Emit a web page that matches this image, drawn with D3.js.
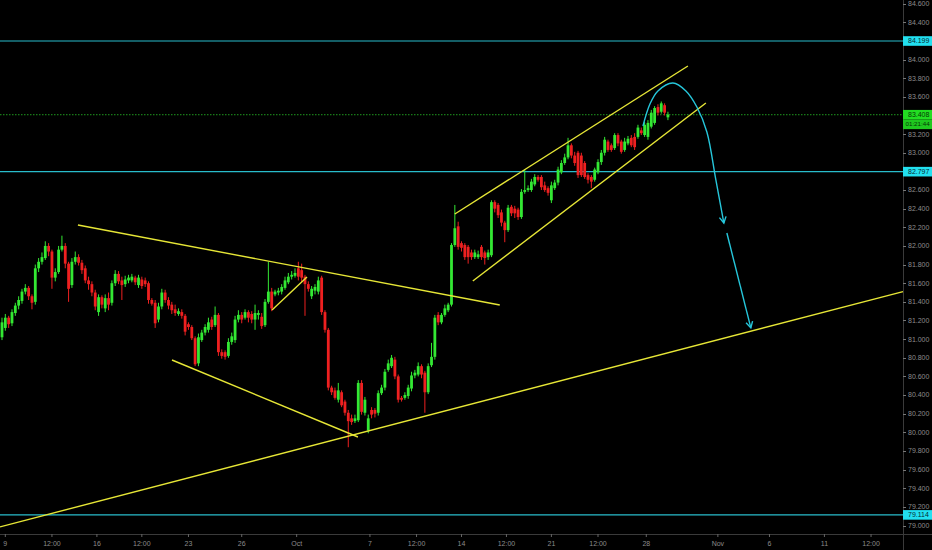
<!DOCTYPE html>
<html><head><meta charset="utf-8">
<script src="https://cdn.jsdelivr.net/npm/d3@7/dist/d3.min.js"></script>
<style>
html,body{margin:0;padding:0;background:#000;}
svg{display:block;}
text{font-family:"Liberation Sans",Arial,sans-serif;}
</style></head>
<body>
<svg id="c" width="932" height="550"></svg>
<script>
// ---- data (USD/INR style candles) ----
const opens = [81.02,81.12,81.23,81.17,81.28,81.36,81.41,81.51,81.55,81.46,
81.40,81.76,81.83,81.87,82.00,81.94,81.66,81.72,81.96,82.00,
81.81,81.58,81.83,81.88,81.82,81.76,81.63,81.59,81.50,81.29,
81.45,81.33,81.44,81.39,81.60,81.70,81.63,81.59,81.63,81.63,
81.66,81.58,81.64,81.63,81.60,81.42,81.39,81.21,81.35,81.50,
81.42,81.37,81.32,81.27,81.29,81.25,81.16,81.13,81.01,80.74,
80.99,81.07,81.10,81.21,81.15,81.26,80.86,80.86,80.82,80.97,
80.99,81.21,81.26,81.23,81.29,81.27,81.21,81.26,81.24,81.15,
81.40,81.51,81.48,81.50,81.51,81.55,81.61,81.67,81.68,81.76,
81.74,81.67,81.59,81.46,81.52,81.51,81.66,81.29,81.10,80.48,
80.45,80.35,80.43,80.33,80.21,80.15,80.12,80.13,80.53,80.21,
80.02,80.24,80.24,80.21,80.42,80.48,80.67,80.71,80.78,80.60,
80.37,80.37,80.39,80.47,80.61,80.62,80.71,80.64,80.43,80.72,
80.81,81.26,81.18,81.26,81.31,81.37,82.01,82.21,82.03,82.01,
81.99,81.93,81.88,81.88,81.99,81.93,81.88,81.90,82.47,82.44,
82.36,82.25,82.17,82.42,82.40,82.39,82.31,82.58,82.60,82.60,
82.66,82.74,82.74,82.65,82.62,82.49,82.62,82.68,82.79,82.89,
82.95,83.08,82.97,83.00,82.97,82.89,82.76,82.74,82.71,82.79,
82.90,83.00,83.12,83.08,83.05,83.19,83.12,83.03,83.10,83.16,
83.17,83.17,83.24,83.19,83.17,83.28,83.32,83.49,83.44,83.51,
83.38];
const highs = [81.23,81.27,81.25,81.32,81.39,81.46,81.54,81.59,81.57,81.48,
81.80,81.87,81.93,82.05,82.03,81.96,81.76,82.00,82.11,82.03,
81.83,81.87,81.94,81.91,81.85,81.79,81.67,81.62,81.53,81.48,
81.47,81.48,81.50,81.63,81.74,81.73,81.67,81.68,81.69,81.70,
81.68,81.69,81.67,81.66,81.62,81.44,81.42,81.39,81.54,81.53,
81.45,81.40,81.37,81.33,81.32,81.27,81.18,81.15,81.03,81.06,
81.10,81.16,81.23,81.24,81.35,81.28,80.89,80.88,81.01,81.07,
81.25,81.31,81.29,81.32,81.31,81.30,81.37,81.31,81.28,81.43,
81.83,81.55,81.53,81.55,81.59,81.67,81.71,81.73,81.76,81.83,
81.81,81.69,81.62,81.57,81.59,81.67,81.68,81.31,81.12,80.50,
80.48,80.53,80.45,80.35,80.24,80.19,80.19,80.56,80.56,80.38,
80.19,80.27,80.26,80.45,80.51,80.68,80.78,80.83,80.81,80.62,
80.39,80.43,80.51,80.65,80.67,80.75,80.73,80.66,80.74,80.96,
81.26,81.29,81.28,81.37,81.39,82.03,82.44,82.26,82.05,82.03,
82.01,81.96,81.96,81.95,82.01,81.95,81.96,82.49,82.49,82.46,
82.39,82.27,82.44,82.44,82.43,82.41,82.61,82.82,82.65,82.72,
82.77,82.76,82.76,82.69,82.64,82.69,82.71,82.85,82.92,82.99,
83.16,83.10,83.01,83.02,83.00,82.91,82.78,82.76,82.84,82.93,
83.03,83.17,83.14,83.10,83.21,83.21,83.14,83.16,83.18,83.19,
83.21,83.30,83.27,83.33,83.35,83.46,83.50,83.52,83.55,83.53,
83.44];
const lows = [80.99,81.09,81.12,81.14,81.25,81.32,81.38,81.48,81.42,81.32,
81.37,81.72,81.80,81.85,81.89,81.54,81.62,81.70,81.94,81.76,
81.40,81.55,81.80,81.79,81.70,81.60,81.53,81.46,81.31,81.25,
81.33,81.29,81.31,81.36,81.57,81.59,81.42,81.56,81.60,81.61,
81.58,81.55,81.54,81.56,81.38,81.36,81.12,81.18,81.32,81.39,
81.32,81.27,81.25,81.25,81.22,81.04,81.10,80.99,80.71,80.71,
80.97,81.04,81.07,81.10,81.13,80.82,80.79,80.78,80.80,80.94,
80.96,81.18,81.17,81.21,81.18,81.17,81.10,81.21,81.11,81.13,
81.38,81.30,81.46,81.47,81.48,81.53,81.59,81.64,81.66,81.63,
81.61,81.25,81.51,81.43,81.48,81.48,81.26,81.07,80.45,80.40,
80.35,80.32,80.27,80.18,79.84,80.08,80.10,80.11,80.19,80.18,
79.99,80.15,80.16,80.18,80.40,80.45,80.65,80.69,80.57,80.32,
80.33,80.35,80.36,80.44,80.58,80.60,80.58,80.21,80.41,80.70,
80.78,81.15,81.16,81.24,81.29,81.35,81.99,81.96,81.94,81.85,
81.81,81.85,81.86,81.86,81.85,81.80,81.85,81.88,82.36,82.30,
82.21,82.04,82.15,82.32,82.30,82.28,82.29,82.56,82.58,82.58,
82.64,82.69,82.60,82.58,82.54,82.46,82.60,82.65,82.77,82.87,
82.93,82.94,82.86,82.73,82.74,82.72,82.67,82.62,82.69,82.77,
82.87,82.97,83.01,83.01,83.03,83.07,82.99,83.01,83.08,83.06,
83.03,83.15,83.19,83.17,83.14,83.26,83.30,83.40,83.42,83.40,
83.35];
const closes = [81.18,81.23,81.16,81.29,81.36,81.42,81.51,81.55,81.46,81.39,
81.76,81.83,81.88,82.00,81.94,81.66,81.72,81.96,82.00,81.81,
81.54,81.83,81.88,81.82,81.74,81.63,81.59,81.50,81.35,81.45,
81.37,81.44,81.37,81.60,81.70,81.62,81.58,81.64,81.66,81.67,
81.61,81.66,81.57,81.59,81.42,81.38,81.17,81.35,81.50,81.42,
81.36,81.31,81.28,81.30,81.25,81.08,81.13,81.01,80.73,81.02,
81.07,81.13,81.18,81.13,81.26,80.86,80.82,80.81,80.97,81.03,
81.21,81.26,81.21,81.29,81.23,81.21,81.28,81.28,81.14,81.40,
81.51,81.33,81.51,81.52,81.56,81.63,81.67,81.69,81.71,81.67,
81.66,81.59,81.54,81.54,81.56,81.63,81.29,81.10,80.48,80.43,
80.37,80.45,80.29,80.21,80.12,80.11,80.15,80.53,80.22,80.35,
80.15,80.19,80.20,80.42,80.48,80.65,80.74,80.80,80.60,80.35,
80.35,80.40,80.48,80.61,80.64,80.71,80.62,80.43,80.71,80.81,
81.23,81.18,81.26,81.33,81.37,82.01,82.19,81.99,81.98,81.88,
81.88,81.88,81.93,81.91,81.88,81.87,81.93,82.47,82.40,82.33,
82.25,82.17,82.41,82.35,82.35,82.31,82.58,82.60,82.62,82.69,
82.74,82.71,82.63,82.60,82.57,82.65,82.68,82.82,82.89,82.95,
83.08,82.97,82.89,82.76,82.76,82.74,82.71,82.69,82.82,82.90,
83.00,83.14,83.03,83.03,83.19,83.10,83.01,83.12,83.15,83.08,
83.06,83.27,83.21,83.30,83.32,83.43,83.48,83.43,83.53,83.43,
83.41];

// x-axis tick labels and the bar index they sit at
const xTickLabels = ["9","12:00","16","12:00","23","26","Oct","7","12:00","14","12:00","21","12:00","28","Nov","6","11","12:00"];
const xTickBars   = [1,15,28.5,42,56,72,88.5,110.5,124.5,138,151.5,165,179,193.5,215,230.5,247,261];

// horizontal price levels
const levels = [84.199, 82.797, 79.114];
const lastPrice = 83.408;
const countdown = "01:21:44";

// drawn trend lines: [barIndex, price] pairs
const trendLines = [
  [[22.8, 82.225], [149.5, 81.366]],
  [[51.05, 80.776], [106.9, 79.950]],
  [[81.1, 81.313], [91.6, 81.667]],
  [[-0.6, 78.985], [270.6, 81.510]],
  [[136.0, 82.343], [206.0, 83.931]],
  [[141.4, 81.624], [211.4, 83.534]]
];
// projected path arrows: [barIndex, price]
const arrowCurve = [[192.5,83.287],[194.6,83.523],[197.0,83.663],[201.5,83.748],[205.4,83.663],[208.7,83.491],[211.7,83.223],[214.4,82.708],[216.8,82.246]];
const arrowStraight = [[217.7,82.139],[224.9,81.120]];

// ---- drawing ----
const W = 932, H = 550, plotR = 903, plotB = 534;
const svg = d3.select("#c");
svg.append("rect").attr("width",W).attr("height",H).attr("fill","#000");

const x = d3.scaleLinear().domain([-0.6, 270.6]).range([0, plotR]);
const y = d3.scaleLinear().domain([78.909, 84.639]).range([plotB, 0]);

const candles = closes.map((c,i)=>({i, o:opens[i], h:highs[i], l:lows[i], c}));
const up = "#33e833", dn = "#ee2020";
const bw = 2.8;

const plot = svg.append("g");
// horizontal levels
plot.selectAll("line.lvl").data(levels).join("line")
  .attr("x1",0).attr("x2",plotR).attr("y1",d=>y(d)).attr("y2",d=>y(d))
  .attr("stroke","#28bccb").attr("stroke-width",1.2);
plot.append("line").attr("x1",0).attr("x2",plotR).attr("y1",y(lastPrice)).attr("y2",y(lastPrice))
  .attr("stroke","#1f9a1f").attr("stroke-width",1).attr("stroke-dasharray","1.5,1.5");

// candles
const g = plot.append("g");
g.selectAll("line.w").data(candles).join("line")
  .attr("x1",d=>x(d.i)).attr("x2",d=>x(d.i)).attr("y1",d=>y(d.h)).attr("y2",d=>y(d.l))
  .attr("stroke",d=>d.c>=d.o?up:dn).attr("stroke-width",1);
g.selectAll("rect.b").data(candles).join("rect")
  .attr("x",d=>x(d.i)-bw/2).attr("width",bw)
  .attr("y",d=>y(Math.max(d.o,d.c)))
  .attr("height",d=>Math.max(1,Math.abs(y(d.o)-y(d.c))))
  .attr("fill",d=>d.c>=d.o?up:dn);

// trend lines
const line = d3.line().x(d=>x(d[0])).y(d=>y(d[1]));
plot.selectAll("path.tl").data(trendLines).join("path")
  .attr("d",line).attr("fill","none").attr("stroke","#e6e636").attr("stroke-width",1.4);

// arrows
const arrowCol = "#26c6da";
const curveLine = d3.line().x(d=>x(d[0])).y(d=>y(d[1])).curve(d3.curveCatmullRom);
function arrowHead(p0,p1){
  const x0=x(p0[0]),y0=y(p0[1]),x1=x(p1[0]),y1=y(p1[1]);
  const a=Math.atan2(y1-y0,x1-x0), L=7, s=0.5;
  const pts=[[x1-L*Math.cos(a-s),y1-L*Math.sin(a-s)],[x1,y1],[x1-L*Math.cos(a+s),y1-L*Math.sin(a+s)]];
  plot.append("path").attr("d",d3.line()(pts)).attr("fill","none").attr("stroke",arrowCol).attr("stroke-width",1.4);
}
plot.append("path").attr("d",curveLine(arrowCurve)).attr("fill","none").attr("stroke",arrowCol).attr("stroke-width",1.4);
arrowHead(arrowCurve[arrowCurve.length-2], arrowCurve[arrowCurve.length-1]);
plot.append("path").attr("d",line(arrowStraight)).attr("fill","none").attr("stroke",arrowCol).attr("stroke-width",1.4);
arrowHead(arrowStraight[0], arrowStraight[1]);

// axis frame
svg.append("rect").attr("x",plotR).attr("y",0).attr("width",W-plotR).attr("height",H).attr("fill","#000");
svg.append("rect").attr("x",0).attr("y",plotB).attr("width",W).attr("height",H-plotB).attr("fill","#000");
svg.append("line").attr("x1",plotR+0.5).attr("x2",plotR+0.5).attr("y1",0).attr("y2",H).attr("stroke","#3a3a3a");
svg.append("line").attr("x1",0).attr("x2",W).attr("y1",plotB+0.5).attr("y2",plotB+0.5).attr("stroke","#3a3a3a");

// y axis
const yTicks = d3.range(79.0, 84.61, 0.2);
const yAx = svg.append("g").attr("transform",`translate(${plotR},0)`);
yAx.selectAll("line").data(yTicks).join("line")
  .attr("x1",0).attr("x2",3).attr("y1",d=>Math.round(y(d))+0.5).attr("y2",d=>Math.round(y(d))+0.5).attr("stroke","#777");
yAx.selectAll("text").data(yTicks).join("text")
  .attr("x",5).attr("y",d=>y(d)).attr("dy","0.35em")
  .attr("fill","#8c8c8c").attr("font-size",7).text(d=>d3.format(".3f")(d));

// price level tags
function tag(v, label, bg, fg, dyOff, fs, tx){
  const yy = y(v)+dyOff;
  yAx.append("rect").attr("x",0).attr("y",yy-4.8).attr("width",W-plotR).attr("height",9.6).attr("fill",bg);
  yAx.append("text").attr("x",tx).attr("y",yy).attr("dy","0.35em").attr("fill",fg).attr("font-size",fs).text(label);
}
levels.forEach(v=>tag(v, d3.format(".3f")(v), "#22e0f0", "#062a30", 0, 7, 5));
tag(lastPrice, d3.format(".3f")(lastPrice), "#22dd22", "#063806", 0, 7, 5);
tag(lastPrice, countdown, "#1fc81f", "#063806", 9.6, 6.2, 2.5);

// x axis
const xAx = svg.append("g");
xAx.selectAll("line").data(xTickBars).join("line")
  .attr("x1",d=>x(d)).attr("x2",d=>x(d)).attr("y1",plotB).attr("y2",plotB+3).attr("stroke","#666");
xAx.selectAll("text").data(xTickBars).join("text")
  .attr("x",d=>x(d)).attr("y",544).attr("dy","0.35em").attr("text-anchor","middle")
  .attr("fill","#8c8c8c").attr("font-size",7).text((d,i)=>xTickLabels[i]);
</script>
</body></html>
